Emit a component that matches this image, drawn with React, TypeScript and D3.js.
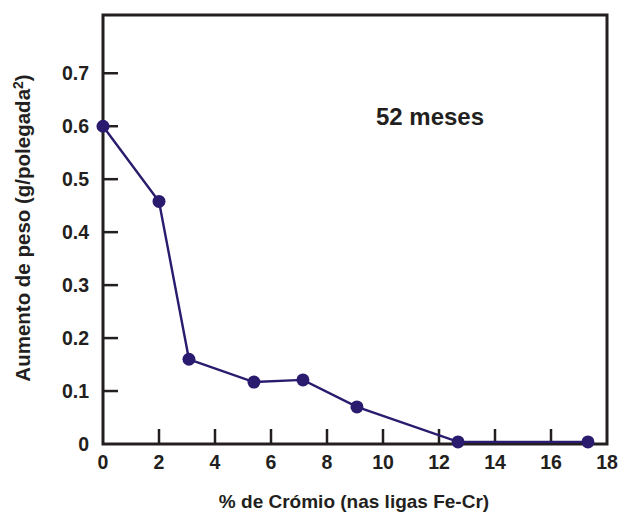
import React from "react";
import * as d3 from "d3";

const chromium = [0, 2.0, 3.07, 5.39, 7.14, 9.07, 12.68, 17.32];
const weightGain = [0.6, 0.458, 0.16, 0.117, 0.121, 0.07, 0.004, 0.004];
const xTicks = [0, 2, 4, 6, 8, 10, 12, 14, 16, 18];
const yTicks = [0, 0.1, 0.2, 0.3, 0.4, 0.5, 0.6, 0.7];

const W = 619;
const H = 513;
const left = 103;
const right = 607;
const top = 15;
const bottom = 444;

export default function App() {
  const x = d3.scaleLinear().domain([0, 18]).range([left, right]);
  const y = d3.scaleLinear().domain([0, 0.81]).range([bottom, top]);
  const pts = chromium.map((c, i) => [c, weightGain[i]] as [number, number]);
  const line = d3.line<[number, number]>().x((d) => x(d[0])).y((d) => y(d[1]));
  const ink = "#231f20";
  const navy = "#2a1b6e";
  const font = "'Liberation Sans', Arial, sans-serif";
  return (
    <svg width={W} height={H} style={{ position: "absolute", left: 0, top: 0, background: "#fff" }} fontFamily={font}>
      {yTicks.filter((t) => t > 0).map((t) => (
        <line key={"yt" + t} x1={left} x2={left + 15} y1={y(t)} y2={y(t)} stroke={ink} strokeWidth={2.5} />
      ))}
      {xTicks.filter((t) => t > 0 && t < 18).map((t) => (
        <line key={"xt" + t} x1={x(t)} x2={x(t)} y1={bottom} y2={bottom - 15} stroke={ink} strokeWidth={2.5} />
      ))}
      <rect x={left} y={top} width={right - left} height={bottom - top} fill="none" stroke={ink} strokeWidth={3} />
      {yTicks.map((t) => (
        <text key={"yl" + t} x={89} y={y(t)} dy="0.36em" textAnchor="end" fontSize={19.5} fontWeight="bold" fill={ink}>
          {t === 0 ? "0" : d3.format(".1f")(t)}
        </text>
      ))}
      {xTicks.map((t) => (
        <text key={"xl" + t} x={x(t)} y={469} textAnchor="middle" fontSize={19.5} fontWeight="bold" fill={ink}>
          {t}
        </text>
      ))}
      <path d={line(pts) || ""} fill="none" stroke={navy} strokeWidth={2.4} />
      {pts.map((p, i) => (
        <circle key={"pt" + i} cx={x(p[0])} cy={y(p[1])} r={6.5} fill={navy} />
      ))}
      <text x={430} y={125} textAnchor="middle" fontSize={24} fontWeight="bold" fill={ink}>
        52 meses
      </text>
      <text x={354} y={508} textAnchor="middle" fontSize={19} fontWeight="bold" fill={ink}>
        % de Crómio (nas ligas Fe-Cr)
      </text>
      <text transform="translate(30,228) rotate(-90)" textAnchor="middle" fontSize={20.5} fontWeight="bold" fill={ink}>
        Aumento de peso (g/polegada<tspan dy={-7} fontSize={14}>2</tspan><tspan dy={7}>)</tspan>
      </text>
    </svg>
  );
}
